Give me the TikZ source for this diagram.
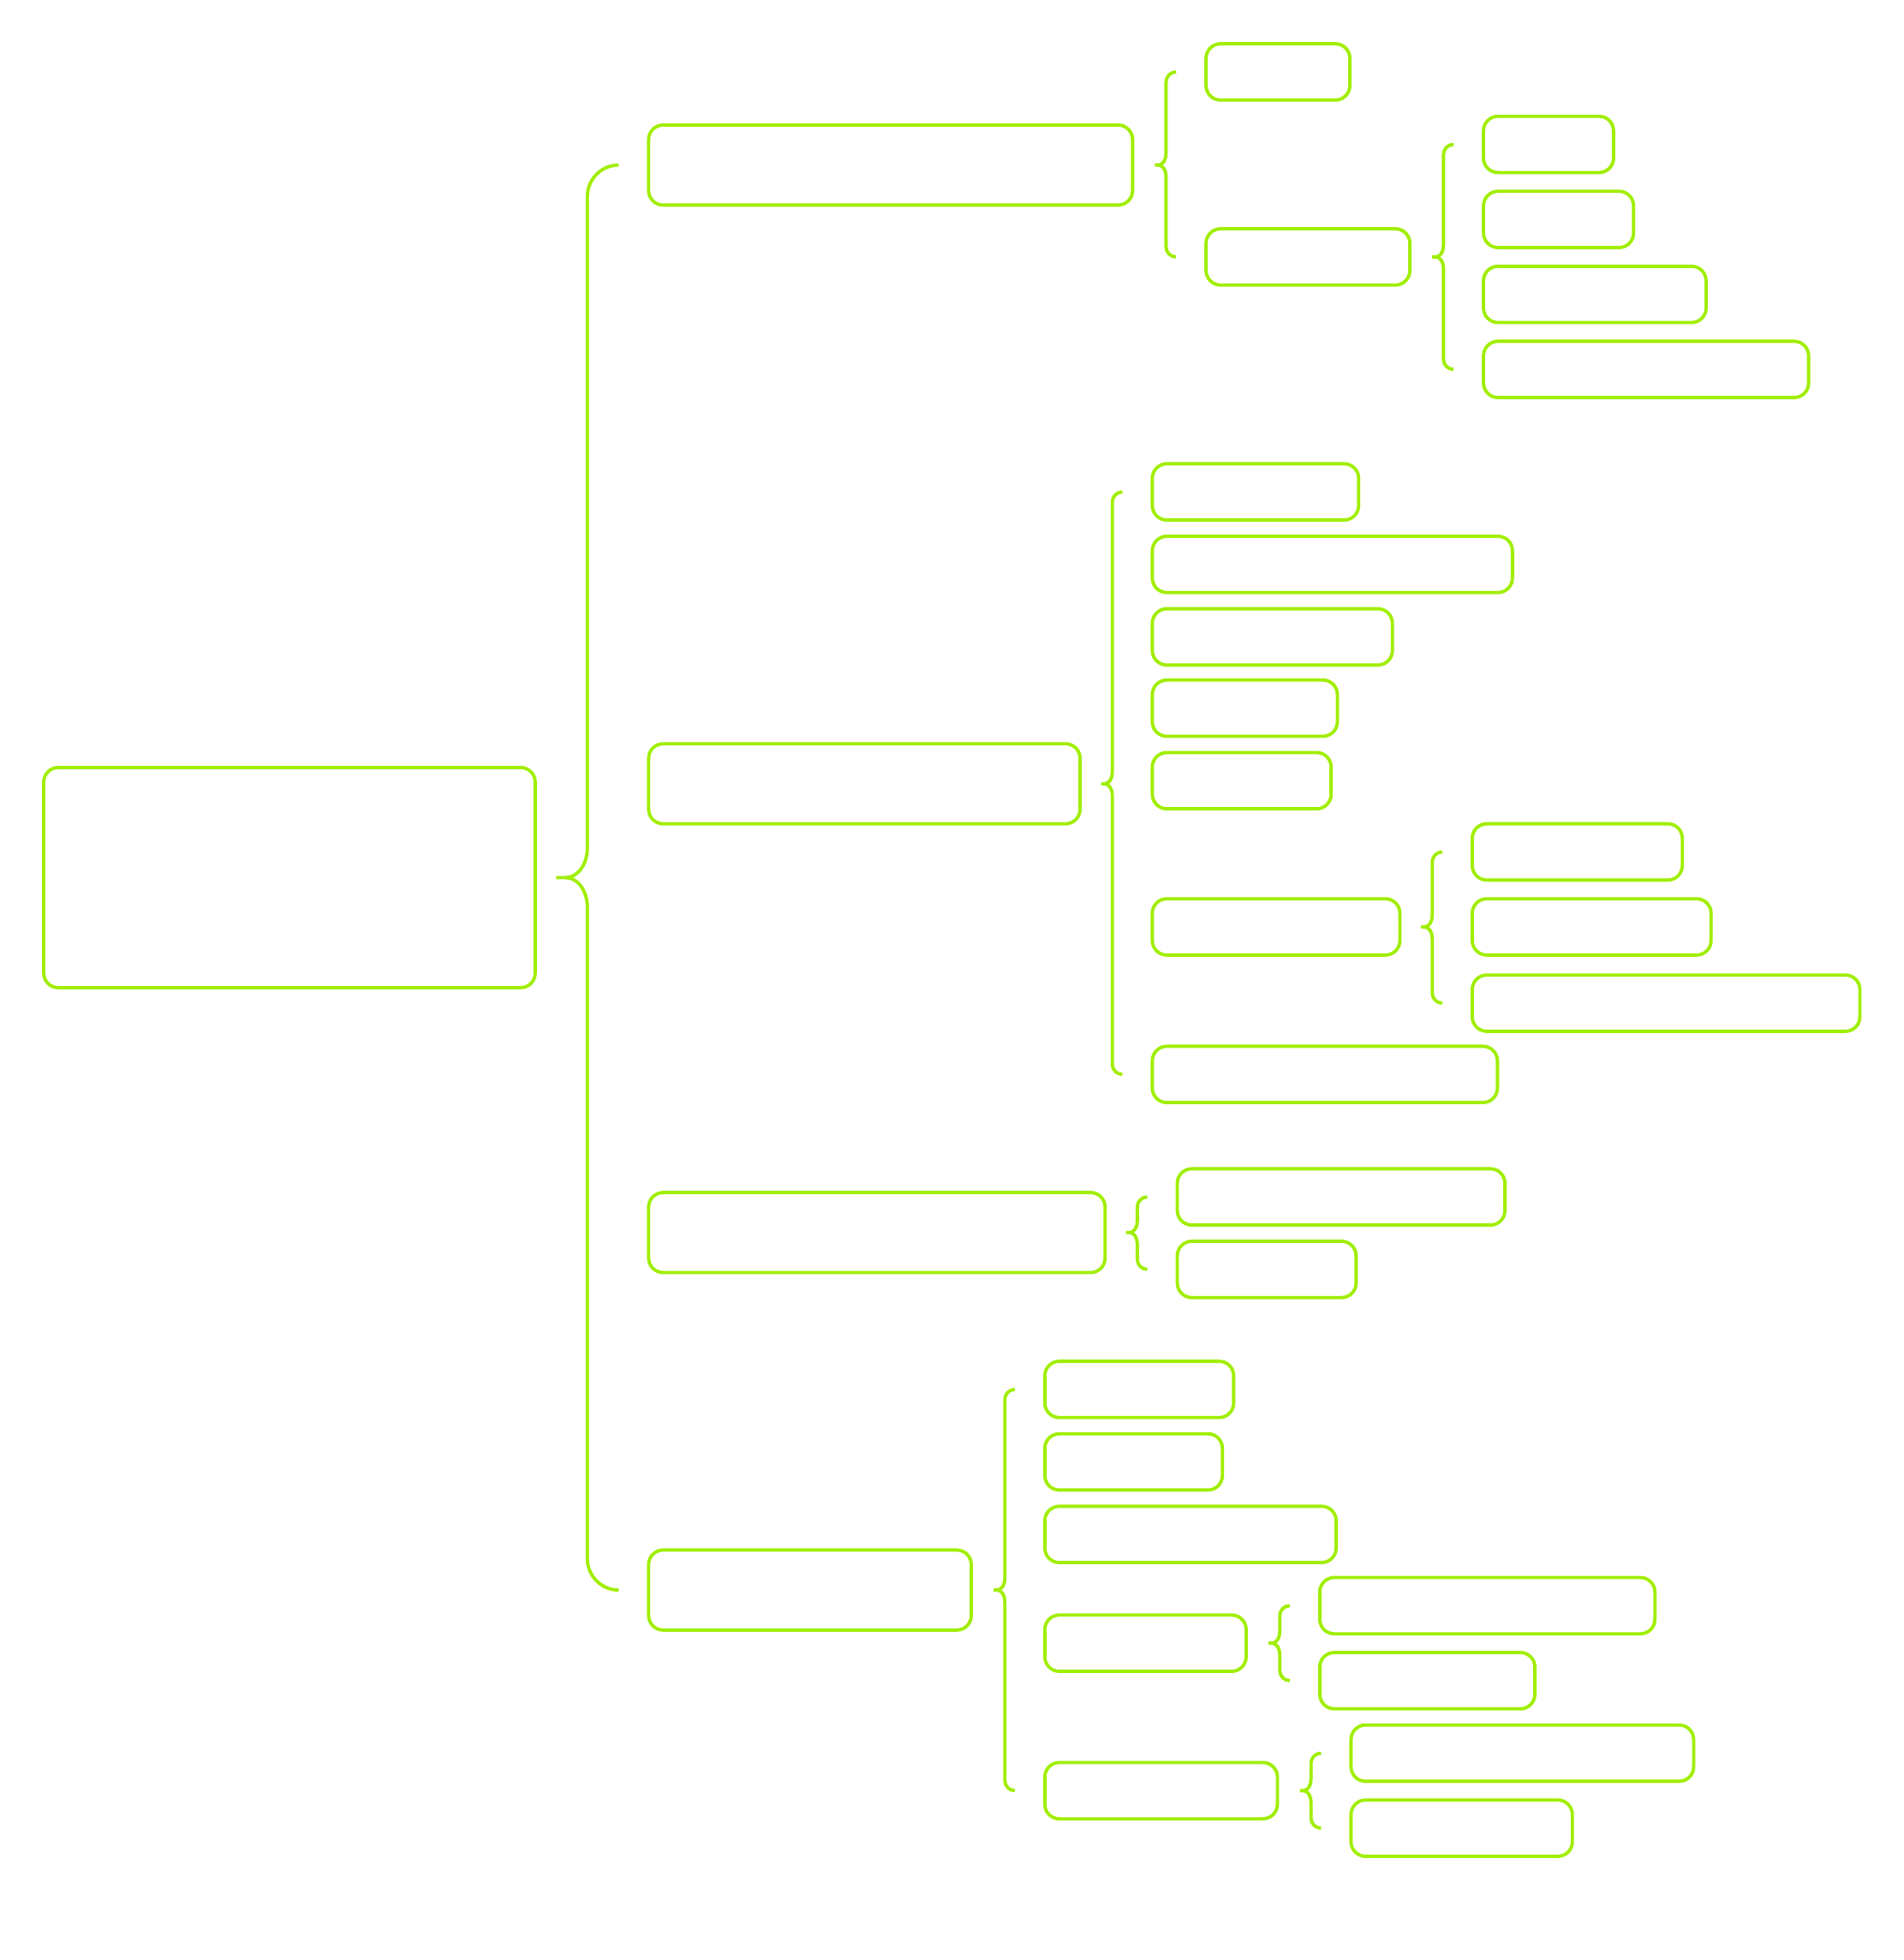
\documentclass[tikz,border=0pt]{standalone}
\usetikzlibrary{calc}
\definecolor{leaf}{RGB}{160,238,0}
\tikzset{
  box/.style={draw=leaf, line width=.75pt, rounded corners=3.3pt, anchor=north west,
    inner sep=0pt, outer sep=0pt, minimum width=#1, minimum height=.45cm},
  tall/.style={minimum height=.64cm},
  grpline/.style={draw=leaf, line width=.75pt}
}
% parent, first child, last child, end radius, tip depth, middle curve
\newcommand{\grp}[6]{%
  \coordinate (#1-l) at ($(#2.west)+(-24-#4,0)$);
  \coordinate (#1-m) at (#1-l |- #1.east);
  \draw[grpline] ($(#2.west)+(-24,0)$)
      .. controls +(-0.55*#4,0) and +(0,-0.55*#4) .. ($(#2.west)+(-24-#4,#4)$)
      -- ($(#1-m)+(0,-#6)$)
      .. controls +(0,0.55*#6) and +(0.4*#5,0) .. ($(#1-m)+(-0.7*#5,0)$)
      -- ($(#1-m)+(-#5,0)$) -- ($(#1-m)+(-0.7*#5,0)$)
      .. controls +(0.4*#5,0) and +(0,-0.55*#6) .. ($(#1-m)+(0,#6)$)
      -- ($(#3.west)+(-24-#4,-#4)$)
      .. controls +(0,0.55*#4) and +(-0.55*#4,0) .. ($(#3.west)+(-24,0)$);}
\begin{document}
\begin{tikzpicture}[x=0.01cm, y=-0.01cm]
  \useasboundingbox (0,0) rectangle (1523,1568);
  \path
    (35,614) node[box=3.93cm, minimum height=1.76cm] (n0) {}
    (519,100) node[box=3.87cm, tall] (n1) {}
    (519,595) node[box=3.45cm, tall] (n2) {}
    (519,954) node[box=3.65cm, tall] (n3) {}
    (519,1240) node[box=2.58cm, tall] (n4) {}
    (965,35) node[box=1.15cm] (n11) {}
    (965,183) node[box=1.63cm] (n12) {}
    (1187,93) node[box=1.04cm] (n121) {}
    (1187,153) node[box=1.20cm] (n122) {}
    (1187,213) node[box=1.78cm] (n123) {}
    (1187,273) node[box=2.60cm] (n124) {}
    (922,371) node[box=1.65cm] (n21) {}
    (922,429) node[box=2.88cm] (n22) {}
    (922,487) node[box=1.92cm] (n23) {}
    (922,544) node[box=1.48cm] (n24) {}
    (922,602) node[box=1.43cm] (n25) {}
    (922,719) node[box=1.98cm] (n26) {}
    (1178,659) node[box=1.68cm] (n261) {}
    (1178,719) node[box=1.91cm] (n262) {}
    (1178,780) node[box=3.10cm] (n263) {}
    (922,837) node[box=2.76cm] (n27) {}
    (942,935) node[box=2.62cm] (n31) {}
    (942,993) node[box=1.43cm] (n32) {}
    (836,1089) node[box=1.51cm] (n41) {}
    (836,1147) node[box=1.42cm] (n42) {}
    (836,1205) node[box=2.33cm] (n43) {}
    (836,1292) node[box=1.61cm] (n44) {}
    (1056,1262) node[box=2.68cm] (n441) {}
    (1056,1322) node[box=1.72cm] (n442) {}
    (836,1410) node[box=1.86cm] (n45) {}
    (1081,1380) node[box=2.74cm] (n451) {}
    (1081,1440) node[box=1.77cm] (n452) {};
  \grp{n0}{n1}{n4}{25}{25}{24}
  \grp{n1}{n11}{n12}{8}{9}{9}
  \grp{n12}{n121}{n124}{8}{9}{9}
  \grp{n2}{n21}{n27}{8}{9}{9}
  \grp{n26}{n261}{n263}{8}{9}{9}
  \grp{n3}{n31}{n32}{8}{9}{9}
  \grp{n4}{n41}{n45}{8}{9}{9}
  \grp{n44}{n441}{n442}{8}{9}{9}
  \grp{n45}{n451}{n452}{8}{9}{9}
\end{tikzpicture}
\end{document}
